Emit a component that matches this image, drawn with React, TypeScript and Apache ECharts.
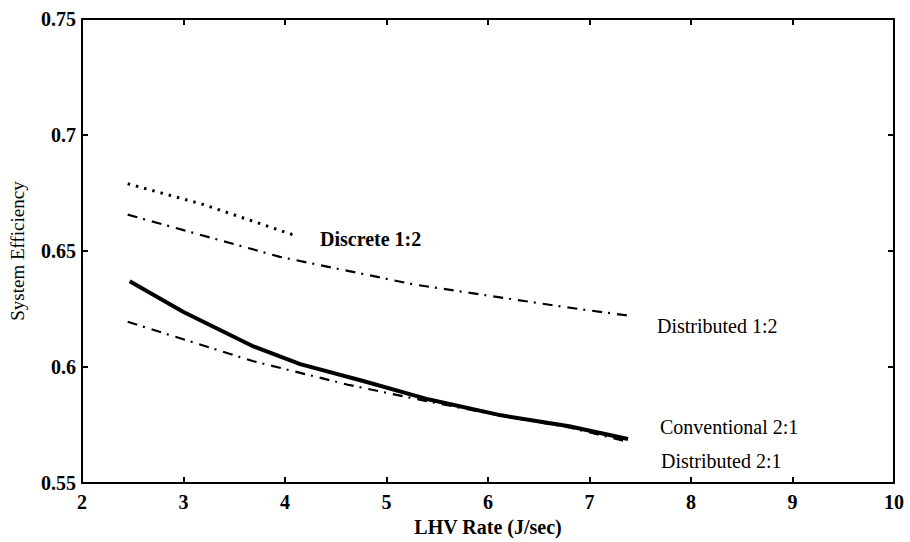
import React, { useEffect, useRef } from "react";
import * as echarts from "echarts";

const xTicks = [2, 3, 4, 5, 6, 7, 8, 9, 10];
const yTicks = [0.55, 0.6, 0.65, 0.7, 0.75];

const discrete12X = [2.45, 3.2, 4.08];
const discrete12Y = [0.679, 0.67, 0.657];

const distributed12X = [2.45, 3.0, 3.95, 5.27, 6.75, 7.38];
const distributed12Y = [0.6657, 0.659, 0.6475, 0.6356, 0.6259, 0.6222];

const conventional21X = [2.47, 3.0, 3.69, 4.15, 4.77, 5.42, 6.13, 6.8, 7.38];
const conventional21Y = [0.637, 0.6237, 0.6089, 0.6013, 0.594, 0.586, 0.5792, 0.5745, 0.569];

const distributed21X = [2.45, 3.69, 4.62, 5.41, 6.13, 6.8, 7.38];
const distributed21Y = [0.6195, 0.6025, 0.5924, 0.5852, 0.579, 0.574, 0.5678];

const labels = [
  { text: "Discrete 1:2", x: 320, y: 240, bold: true },
  { text: "Distributed 1:2", x: 657, y: 327, bold: false },
  { text: "Conventional 2:1", x: 660, y: 428, bold: false },
  { text: "Distributed 2:1", x: 661, y: 462, bold: false },
];

const FONT = "'Liberation Serif', 'DejaVu Serif', serif";

function pairs(xs: number[], ys: number[]) {
  return xs.map((x, i) => [x, ys[i]]);
}

export default function App() {
  const ref = useRef<HTMLDivElement>(null);
  useEffect(() => {
    if (!ref.current) return;
    const chart = echarts.init(ref.current, null, { renderer: "svg" });
    const axisLine = { show: true, lineStyle: { color: "#000", width: 2 } };
    const axisTick = { show: true, inside: true, length: 6, lineStyle: { color: "#000", width: 2 } };
    const fmt = (v: number) => parseFloat(v.toFixed(2)).toString();
    chart.setOption({
      animation: false,
      backgroundColor: "#fff",
      grid: { left: 82, right: 16, top: 19, bottom: 50, containLabel: false },
      xAxis: [
        {
          type: "value",
          min: xTicks[0],
          max: xTicks[xTicks.length - 1],
          interval: 1,
          position: "bottom",
          name: "LHV Rate (J/sec)",
          nameLocation: "middle",
          nameGap: 18,
          nameTextStyle: { fontFamily: FONT, fontSize: 20, fontWeight: "bold", color: "#000" },
          axisLine,
          axisTick,
          splitLine: { show: false },
          axisLabel: { margin: 9, fontFamily: FONT, fontSize: 20, fontWeight: "bold", color: "#000", formatter: fmt },
        },
        {
          type: "value",
          min: xTicks[0],
          max: xTicks[xTicks.length - 1],
          interval: 1,
          position: "top",
          axisLine,
          axisTick,
          splitLine: { show: false },
          axisLabel: { show: false },
        },
      ],
      yAxis: [
        {
          type: "value",
          min: yTicks[0],
          max: yTicks[yTicks.length - 1],
          interval: 0.05,
          position: "left",
          name: "System Efficiency",
          nameLocation: "middle",
          nameGap: 55,
          nameRotate: 90,
          nameTextStyle: { fontFamily: FONT, fontSize: 19, color: "#000" },
          axisLine,
          axisTick,
          splitLine: { show: false },
          axisLabel: { margin: 6, fontFamily: FONT, fontSize: 20, fontWeight: "bold", color: "#000", formatter: fmt },
        },
        {
          type: "value",
          min: yTicks[0],
          max: yTicks[yTicks.length - 1],
          interval: 0.05,
          position: "right",
          axisLine,
          axisTick,
          splitLine: { show: false },
          axisLabel: { show: false },
        },
      ],
      series: [
        {
          type: "line",
          name: "Discrete 1:2",
          data: pairs(discrete12X, discrete12Y),
          showSymbol: false,
          lineStyle: { color: "#000", width: 3, type: [2.5, 6], cap: "butt" },
        },
        {
          type: "line",
          name: "Distributed 1:2",
          data: pairs(distributed12X, distributed12Y),
          showSymbol: false,
          lineStyle: { color: "#000", width: 2.2, type: [10, 6, 2, 7] },
        },
        {
          type: "line",
          name: "Conventional 2:1",
          data: pairs(conventional21X, conventional21Y),
          showSymbol: false,
          lineStyle: { color: "#000", width: 4 },
        },
        {
          type: "line",
          name: "Distributed 2:1",
          data: pairs(distributed21X, distributed21Y),
          showSymbol: false,
          lineStyle: { color: "#000", width: 2.2, type: [10, 6, 2, 7] },
        },
      ],
      graphic: labels.map((l) => ({
        type: "text",
        left: l.x,
        top: l.y - 11,
        style: {
          text: l.text,
          fontFamily: FONT,
          fontSize: 20,
          fontWeight: l.bold ? "bold" : "normal",
          fill: "#000",
        },
      })),
    });
    return () => chart.dispose();
  }, []);
  return <div ref={ref} style={{ width: 910, height: 542, position: "absolute", left: 0, top: 0 }} />;
}
